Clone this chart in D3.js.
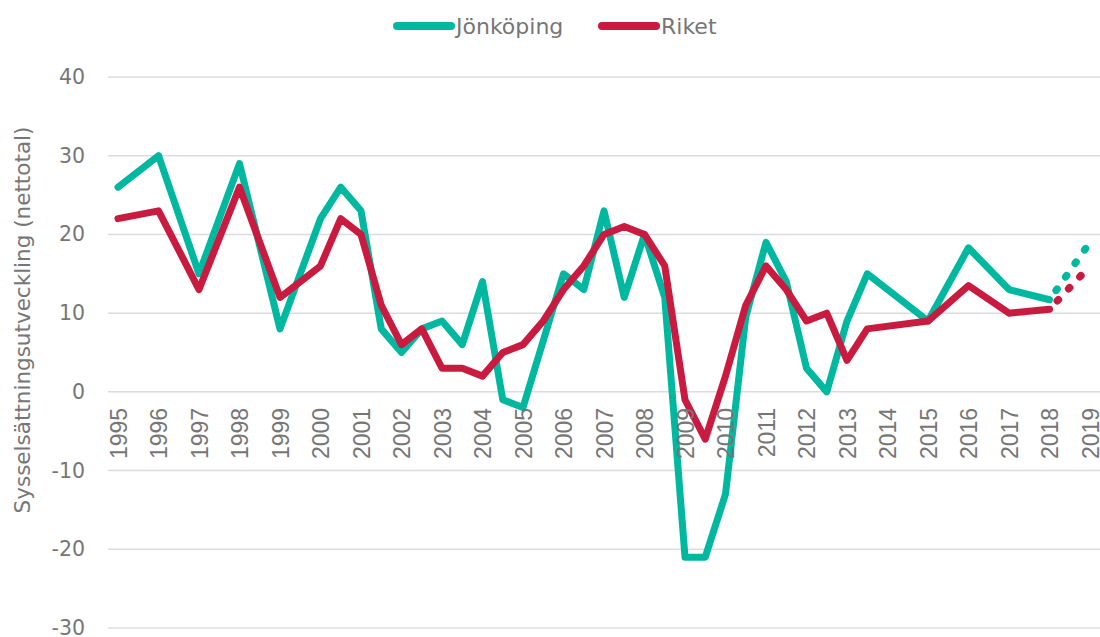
<!DOCTYPE html>
<html>
<head>
<meta charset="utf-8">
<script src="https://cdn.jsdelivr.net/npm/d3@7"></script>
<style>
  body { margin: 0; background: #fff; }
  .grid line { stroke: #dcdcdc; stroke-width: 1.5; }
  .axis text { fill: #767676; }
</style>
</head>
<body>
<svg class="chart" width="1100" height="637"></svg>
<script>
// half-year points from 2000 on, years as decimals
const years = [1995, 1996, 1997, 1998, 1999, 2000, 2000.5, 2001, 2001.5, 2002, 2002.5,
  2003, 2003.5, 2004, 2004.5, 2005, 2005.5, 2006, 2006.5, 2007, 2007.5, 2008, 2008.5,
  2009, 2009.5, 2010, 2010.5, 2011, 2011.5, 2012, 2012.5, 2013, 2013.5, 2015, 2016, 2017, 2018];

const jonkoping = [26, 30, 15, 29, 8, 22, 26, 23, 8, 5, 8,
  9, 6, 14, -1, -2, 6.5, 15, 13, 23, 12, 20, 12,
  -21, -21, -13, 9.5, 19, 14, 3, 0, 9, 15, 9, 18.3, 13, 11.7];

const riket = [22, 23, 13, 26, 12, 16, 22, 20, 11, 6, 8,
  3, 3, 2, 5, 6, 9, 13, 16, 20, 21, 20, 16,
  -1, -6, 2, 11, 16, 13, 9, 10, 4, 8, 9, 13.5, 10, 10.5];

// dotted forecast part
const forecastYears = [2018, 2019];
const jonkopingForecast = [11.7, 19];
const riketForecast = [10.5, 16];

const xTickLabels = ['1995', '1996', '1997', '1998', '1999', '2000', '2001', '2002', '2003',
  '2004', '2005', '2006', '2007', '2008', '2009', '2010', '2011', '2012', '2013', '2014',
  '2015', '2016', '2017', '2018', '2019'];
const yTicks = [40, 30, 20, 10, 0, -10, -20, -30];

const seriesNames = ['Jönköping', 'Riket'];
const colors = ['#00b8a0', '#c91b40'];

function drawChart(){
  const svg = d3.select('svg.chart');

  const x = d3.scaleLinear()
              .domain([1995, 2019])
              .range([118, 1090]);

  const y = d3.scaleLinear()
              .domain([-30, 40])
              .range([628, 77]);

  // gridlines
  svg.append('g')
    .attr('class', 'grid')
    .selectAll('line')
    .data(yTicks)
    .enter()
    .append('line')
      .attr('x1', 108)
      .attr('x2', 1100)
      .attr('y1', d => y(d))
      .attr('y2', d => y(d));

  // y axis labels
  const yAxis = svg.append('g')
      .attr('class', 'axis y')
      .attr('transform', 'translate(85,0)')
      .call(d3.axisLeft(y).tickValues(yTicks).tickFormat(d => String(d)).tickSize(0).tickPadding(0));
  yAxis.select('.domain').remove();
  yAxis.selectAll('text')
      .style('font-family', '"DejaVu Sans", sans-serif')
      .style('font-size', '20.5px');

  svg.append('text')
      .text('Sysselsättningsutveckling (nettotal)')
      .attr('transform', 'translate(30,320) rotate(-90)')
      .style('fill', '#767676')
      .style('font-family', '"DejaVu Sans", sans-serif')
      .style('font-size', '21.5px')
      .style('text-anchor', 'middle');

  const line = d3.line()
      .x(d => x(d[0]))
      .y(d => y(d[1]));

  const series = [jonkoping, riket];
  const forecasts = [jonkopingForecast, riketForecast];

  series.forEach((vals, i) => {
    svg.append('path')
      .datum(years.map((yr, j) => [yr, vals[j]]))
      .attr('d', line)
      .attr('fill', 'none')
      .attr('stroke', colors[i])
      .attr('stroke-width', 7)
      .attr('stroke-linejoin', 'round')
      .attr('stroke-linecap', 'round');

    svg.append('path')
      .datum(forecastYears.map((yr, j) => [yr, forecasts[i][j]]))
      .attr('d', line)
      .attr('fill', 'none')
      .attr('stroke', colors[i])
      .attr('stroke-width', 7.5)
      .attr('stroke-linecap', 'round')
      .attr('stroke-dasharray', '1.5,15')
      .attr('stroke-dashoffset', 5);
  });

  // x axis labels sit on the zero line
  const xAxis = svg.append('g')
      .attr('class', 'axis x')
      .attr('transform', `translate(0,${y(0)})`)
      .call(d3.axisBottom(x)
              .tickValues(xTickLabels.map(Number))
              .tickFormat(d3.format('d'))
              .tickSize(0));
  xAxis.select('.domain').remove();
  xAxis.selectAll('text')
      .attr('transform', 'rotate(-90)')
      .attr('x', -16)
      .attr('y', 0)
      .attr('dy', '0.36em')
      .style('text-anchor', 'end')
      .style('font-family', '"Liberation Sans", Arial, sans-serif')
      .style('font-size', '23px');

  // legend
  const legendX = [397, 602];
  const legend = svg.append('g').attr('class', 'legend');
  seriesNames.forEach((name, i) => {
    legend.append('line')
      .attr('x1', legendX[i])
      .attr('x2', legendX[i] + 54)
      .attr('y1', 26)
      .attr('y2', 26)
      .attr('stroke', colors[i])
      .attr('stroke-width', 8)
      .attr('stroke-linecap', 'round');
    legend.append('text')
      .text(name)
      .attr('x', legendX[i] + 59)
      .attr('y', 26)
      .attr('dy', '0.35em')
      .style('fill', '#767676')
      .style('font-family', '"DejaVu Sans", sans-serif')
      .style('font-size', '22px');
  });
}

drawChart();
</script>
</body>
</html>
